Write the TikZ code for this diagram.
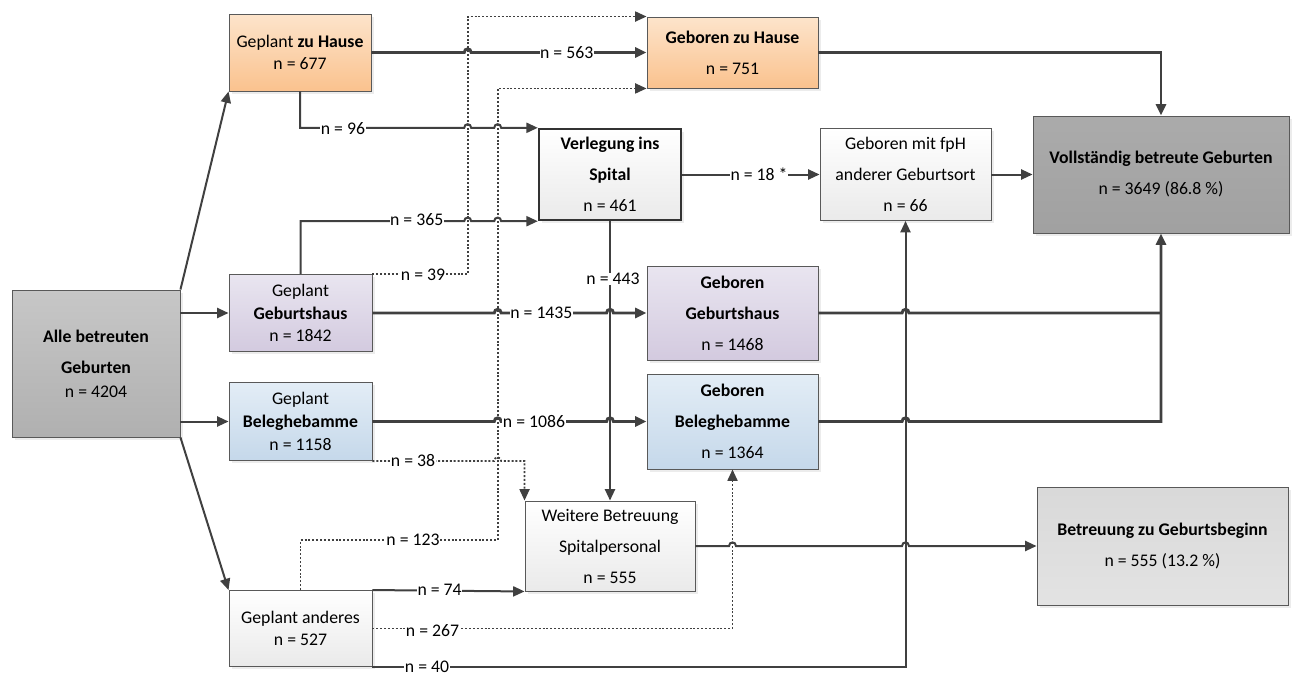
\documentclass[tikz,border=0pt]{standalone}
\usepackage{fontspec}
\setmainfont{Carlito}
\usetikzlibrary{arrows.meta,shadows}

\definecolor{orTop}{HTML}{FDE4CB}
\definecolor{orBot}{HTML}{FAC28E}
\definecolor{puTop}{HTML}{E9E5F0}
\definecolor{puBot}{HTML}{D3CADF}
\definecolor{blTop}{HTML}{E3EDF6}
\definecolor{blBot}{HTML}{C5D8EA}
\definecolor{wsBot}{HTML}{EAEAEA}
\definecolor{lnCol}{HTML}{404040}

\tikzset{
	cell/.style={draw=black!65,line width=0.7pt,align=center,inner sep=1pt,
		drop shadow={shadow xshift=2pt,shadow yshift=-2pt,fill=black!15}},
	tight/.style={font=\fontsize{13.3}{17}\selectfont},
	loose/.style={font=\fontsize{13.3}{23.25}\selectfont},
	orange box/.style={cell,top color=orTop,bottom color=orBot},
	purple box/.style={cell,top color=puTop,bottom color=puBot},
	blue box/.style={cell,top color=blTop,bottom color=blBot},
	white box/.style={cell,top color=white,bottom color=wsBot},
	dark box/.style={cell,top color=black!33,bottom color=black!37},
	gray box/.style={cell,top color=black!22,bottom color=black!31},
	light box/.style={cell,top color=black!15,bottom color=black!11},
	flow/.style={draw=lnCol,line width=1.5pt},
	mainflow/.style={draw=lnCol,line width=2.2pt},
	dotflow/.style={draw=lnCol,line width=1.3pt,dash pattern=on 1.5pt off 1.4pt},
	arr/.style={-{Triangle[length=8.5pt,width=7.5pt]}},
	hop/.style={to path={-- ([xshift=-2.6pt]\tikztotarget) .. controls +(0,3.6pt) and +(0,3.6pt) .. ([xshift=2.6pt]\tikztotarget)}},
	lbl/.style={fill=white,inner sep=0.4pt,font=\fontsize{13.3}{15}\selectfont}
}

\begin{document}
\begin{tikzpicture}[x=0.75pt,y=-0.75pt]

	\useasboundingbox (0,0) rectangle (1292,675);

	\node[gray box,loose,minimum width=126pt,minimum height=110.25pt] (alle) at (96,363.5) {\textbf{Alle betreuten}\\\textbf{Geburten}\\[-5pt]n = 4204}; % Ausgang

	% geplant
	\node[orange box,tight,minimum width=106.5pt,minimum height=57.75pt] (gzh) at (300,52.5) {Geplant \textbf{zu Hause}\\n = 677};
	\node[purple box,tight,minimum width=107.25pt,minimum height=57.75pt] (ggh) at (300.5,313) {Geplant\\\textbf{Geburtshaus}\\n = 1842};
	\node[blue box,tight,minimum width=107.25pt,minimum height=58.5pt] (gbh) at (300.5,421.5) {Geplant\\\textbf{Beleghebamme}\\n = 1158};
	\node[white box,tight,minimum width=107.25pt,minimum height=57pt] (gan) at (300.5,628.5) {Geplant anderes\\n = 527};

	% geboren
	\node[orange box,loose,minimum width=128.25pt,minimum height=53.25pt] (bzh) at (732.5,52.5) {\textbf{Geboren zu Hause}\\n = 751};
	\node[white box,loose,draw=black!80,line width=1.8pt,minimum width=106.5pt,minimum height=68.25pt] (vis) at (610,174.5) {\textbf{Verlegung ins}\\\textbf{Spital}\\n = 461};
	\node[white box,loose,minimum width=128.25pt,minimum height=69pt] (fph) at (905.5,174.5) {Geboren mit fpH\\anderer Geburtsort\\n = 66};
	\node[purple box,loose,minimum width=128.25pt,minimum height=70.5pt] (bgh) at (732.5,313) {\textbf{Geboren}\\\textbf{Geburtshaus}\\n = 1468};
	\node[blue box,loose,minimum width=128.25pt,minimum height=71.25pt] (bbh) at (732.5,421.5) {\textbf{Geboren}\\\textbf{Beleghebamme}\\n = 1364};
	\node[white box,loose,minimum width=127.5pt,minimum height=67.5pt] (wbs) at (610,546) {Weitere Betreuung\\Spitalpersonal\\n = 555};

	% ergebnis
	\node[dark box,loose,minimum width=192pt,minimum height=87.75pt] (vbg) at (1161,174.5) {\textbf{Vollständig betreute Geburten}\\n = 3649 (86.8 \%)};
	\node[light box,loose,minimum width=188.25pt,minimum height=88.5pt] (bzg) at (1162.5,546) {\textbf{Betreuung zu Geburtsbeginn}\\n = 555 (13.2 \%)};

	\coordinate (v39) at (467.7,17);
	\coordinate (v123) at (497.7,540);

	% verteilung
	\draw[flow,arr] (alle.north east) -- (gzh.south west);
	\draw[flow,arr] (alle.east |- ggh.west) -- (ggh.west);
	\draw[flow,arr] (alle.east |- gbh.west) -- (gbh.west);
	\draw[flow,arr] (alle.south east) -- (gan.north west);

	% gestrichelt
	\draw[dotflow,arr] (ggh.north east) -| (v39 |- bzh.north west) -- (bzh.north west);
	\draw[dotflow,arr] (gan.north) |- (v123) |- (bzh.south west);
	\draw[dotflow,arr] (gbh.south east) to[hop] (v123 |- gbh.south east) -| (wbs.north west);
	\draw[dotflow,arr] (gan.east) -| (bbh.south);

	% durchgezogen
	\draw[mainflow,arr] (gzh.east) to[hop] (v39 |- gzh.east) -- (bzh.west);
	\draw[flow,arr] (gzh.south) -- (gzh.south |- vis.north west) to[hop] (v39 |- vis.north west) to[hop] (v123 |- vis.north west) -- (vis.north west);
	\draw[flow,arr] (ggh.north) -- (ggh.north |- vis.south west) to[hop] (v39 |- vis.south west) to[hop] (v123 |- vis.south west) -- (vis.south west);
	\draw[mainflow,arr] (ggh.east) to[hop] (v123 |- ggh.east) to[hop] (vis.south |- ggh.east) -- (bgh.west);
	\draw[mainflow,arr] (gbh.east) to[hop] (v123 |- gbh.east) to[hop] (vis.south |- gbh.east) -- (bbh.west);
	\draw[flow,arr] (vis.south) -- (wbs.north);
	\draw[flow,arr] (vis.east) -- (fph.west);
	\draw[flow,arr] (fph.east) -- (vbg.west);
	\draw[flow,arr] (gan.north east) -- (wbs.south west);
	\draw[flow,arr] (gan.south east) -| (fph.south);
	\draw[flow,arr] (wbs.east) to[hop] (bbh.south |- wbs.east) to[hop] (fph.south |- wbs.east) -- (bzg.west);

	% zusammenfuehrung
	\draw[mainflow,arr] (bzh.east) -| (vbg.north);
	\draw[mainflow] (bgh.east) to[hop] (fph.south |- bgh.east) -- (vbg.south |- bgh.east);
	\draw[mainflow,arr] (bbh.east) to[hop] (fph.south |- bbh.east) -| (vbg.south);

	% beschriftung
	\node[lbl] (n563) at (566.7,52.5) {n = 563};
	\node[lbl] (n96) at (343,129) {n = 96};
	\node[lbl] (n365) at (416.7,220) {n = 365};
	\node[lbl] (n39) at (423,274.5) {n = 39};
	\node[lbl] (n1435) at (541.4,313) {n = 1435};
	\node[lbl] (n443) at (613,279) {n = 443};
	\node[lbl] (n18) at (759,174.5) {n = 18 *};
	\node[lbl] (n1086) at (534,421.5) {n = 1086};
	\node[lbl] (n38) at (413,461) {n = 38};
	\node[lbl] (n123) at (413,540) {n = 123};
	\node[lbl] (n74) at (439.6,590) {n = 74};
	\node[lbl] (n267) at (432.5,630.5) {n = 267};
	\node[lbl] (n40) at (427,666.5) {n = 40};

\end{tikzpicture}
\end{document}
